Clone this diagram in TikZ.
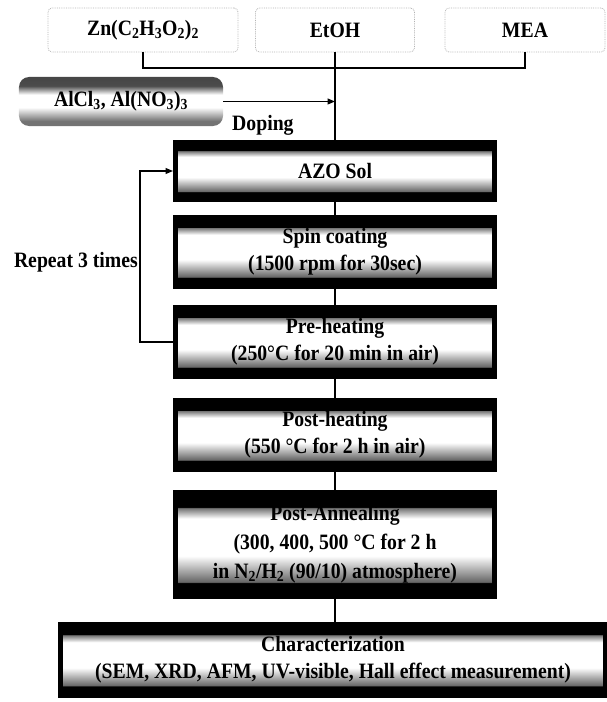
\documentclass[tikz,border=0pt]{standalone}
\usepackage{fontspec}
\setmainfont{Liberation Serif}[FakeStretch=0.9]
\usetikzlibrary{arrows.meta,positioning,shadings}

\pgfdeclareverticalshading{stepshade}{100bp}{color(0bp)=(black); color(31.5bp)=(black); color(32bp)=(black!60); color(44.5bp)=(white); color(62.5bp)=(white); color(67.5bp)=(black!55); color(68bp)=(black); color(100bp)=(black)}
\pgfdeclareverticalshading{dopeshade}{100bp}{color(0bp)=(black!55); color(30bp)=(black!55); color(44bp)=(white); color(57bp)=(white); color(66bp)=(black!70); color(100bp)=(black!80)}

\begin{document}
\begin{tikzpicture}[
    x=1bp, y=-1bp,
    chem/.style={draw=black!30, densely dotted, line width=0.8bp, rounded corners=4bp, minimum height=44bp, font=\fontsize{22}{26}\selectfont\bfseries},
    dopant/.style={shading=dopeshade, rounded corners=10bp, minimum width=204bp, minimum height=49bp, font=\fontsize{22}{26}\selectfont\bfseries},
    stepbox/.style={draw=black, line width=5bp, shading=stepshade, minimum width=319bp, align=center, inner sep=1bp, font=\fontsize{22}{27.5}\selectfont\bfseries},
    tag/.style={font=\fontsize{22}{26}\selectfont\bfseries, inner sep=0pt},
    link/.style={line width=1.2bp, draw=black},
    arrow/.style={link, -{Triangle[length=7.5bp,width=6bp]}}
]
    \useasboundingbox (0,0) rectangle (607,702);

    % Starting materials
    \node[chem, minimum width=190bp] (zn) at (143, 30) {Zn(C\textsubscript{2}H\textsubscript{3}O\textsubscript{2})\textsubscript{2}};
    \node[chem, minimum width=159bp] (etoh) at (335, 30) {EtOH};
    \node[chem, minimum width=160bp] (mea) at (525, 30) {MEA};
    \coordinate (mix) at (335, 68);

    % Dopant
    \node[dopant] (alcl) at (121, 101.5) {AlCl\textsubscript{3}, Al(NO\textsubscript{3})\textsubscript{3}};
    \node[tag, anchor=west] (doping) at (232, 125) {Doping};

    % Process steps
    \node[stepbox, minimum height=57bp] (azo) at (335, 171) {AZO Sol};
    \node[stepbox, minimum height=69bp] (spin) at (335, 252) {Spin coating\\(1500 rpm for 30sec)};
    \node[stepbox, minimum height=69bp] (pre) at (335, 342) {Pre-heating\\(250°C for 20 min in air)};
    \node[stepbox, minimum height=69bp] (post) at (335, 435) {Post-heating\\(550 °C for 2 h in air)};
    \node[stepbox, minimum height=104bp, font=\fontsize{22}{29}\selectfont\bfseries] (anneal) at (335, 544.5) {Post-Annealing\\(300, 400, 500 °C for 2 h\\in N\textsubscript{2}/H\textsubscript{2} (90/10) atmosphere)};
    \node[stepbox, minimum width=544bp, minimum height=71bp] (charac) at (333, 660) {Characterization\\(SEM, XRD, AFM, UV-visible, Hall effect measurement)};

    % Loop
    \node[tag, anchor=east] (repeat) at (138, 262) {Repeat 3 times};

    % Edges
    \draw[link, line width=1.8bp] (zn) |- (mix) -| (mea);
    \draw[link] (etoh) -- (azo);
    \draw[arrow] (alcl) -- (alcl -| etoh);
    \draw[link] (azo) -- (spin);
    \draw[link] (spin) -- (pre);
    \draw[link] (pre) -- (post);
    \draw[link] (post) -- (anneal);
    \draw[link] (anneal) -- (anneal |- charac.north);
    \draw[arrow] (pre.west) -- ++(-33, 0) |- (azo.west);

\end{tikzpicture}
\end{document}
